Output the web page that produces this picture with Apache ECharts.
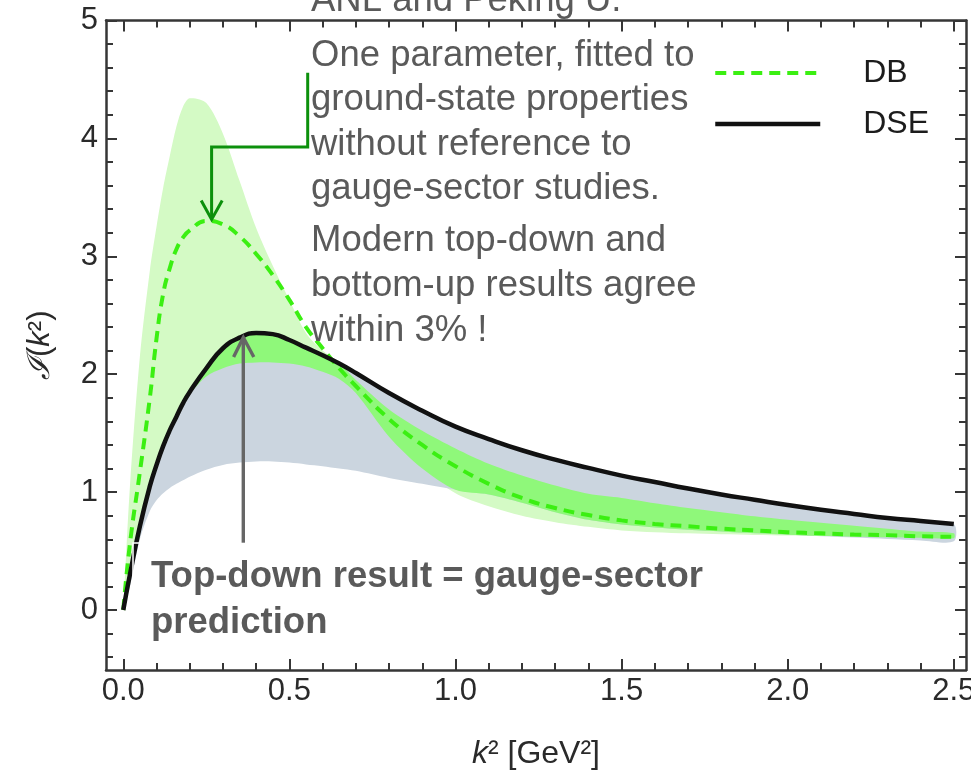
<!DOCTYPE html>
<html>
<head>
<meta charset="utf-8">
<script src="https://cdn.jsdelivr.net/npm/echarts@6/dist/echarts.min.js"></script>
<style>
  html, body { margin: 0; padding: 0; background: #ffffff; }
  #chart { width: 971px; height: 779px; }
</style>
</head>
<body>
<div id="chart"></div>
<script>
// k^2 sample points [GeV^2]
const k2 = [0, 0.02, 0.05, 0.08, 0.1, 0.12, 0.14, 0.16, 0.18, 0.2, 0.25, 0.3, 0.35, 0.4, 0.45, 0.5, 0.55, 0.6, 0.65, 0.7,
            0.8, 0.9, 1.0, 1.1, 1.2, 1.3, 1.4, 1.5, 1.6, 1.7, 1.8, 1.9, 2.0, 2.1, 2.2, 2.3, 2.4, 2.5];

// DB (bottom-up) interaction and its band
const dbCurve    = [0, 0.56, 1.17, 1.80, 2.30, 2.68, 2.90, 3.06, 3.16, 3.22, 3.30, 3.27, 3.17, 3.02, 2.84, 2.63, 2.40, 2.22, 2.05, 1.90,
                    1.62, 1.40, 1.22, 1.07, 0.95, 0.865, 0.805, 0.76, 0.73, 0.71, 0.69, 0.675, 0.66, 0.65, 0.64, 0.635, 0.625, 0.62];
const dbBandLow  = [0, 0.29, 0.70, 1.04, 1.22, 1.38, 1.515, 1.63, 1.745, 1.83, 1.98, 2.05, 2.09, 2.10, 2.10, 2.09, 2.065, 2.02, 1.96, 1.84,
                    1.47, 1.20, 0.99, 0.88, 0.80, 0.745, 0.705, 0.675, 0.66, 0.65, 0.643, 0.637, 0.632, 0.627, 0.622, 0.617, 0.612, 0.608];
const dbBandHigh = [0, 1.05, 2.15, 2.88, 3.25, 3.58, 3.85, 4.10, 4.27, 4.34, 4.30, 4.04, 3.64, 3.24, 2.92, 2.63, 2.35, 2.20, 2.10, 1.95,
                    1.70, 1.52, 1.37, 1.24, 1.14, 1.055, 0.985, 0.95, 0.905, 0.865, 0.83, 0.795, 0.765, 0.74, 0.715, 0.69, 0.665, 0.65];

// DSE (top-down) interaction; its band runs from dseBandLow up to the curve
const dseCurve   = [0, 0.30, 0.71, 1.05, 1.23, 1.39, 1.525, 1.64, 1.755, 1.85, 2.05, 2.22, 2.31, 2.35, 2.34, 2.29, 2.225, 2.16, 2.09, 2.01,
                    1.84, 1.69, 1.555, 1.45, 1.355, 1.275, 1.205, 1.14, 1.085, 1.03, 0.98, 0.935, 0.89, 0.85, 0.815, 0.78, 0.755, 0.73];
const dseBandLow = [0, 0.20, 0.60, 0.84, 0.93, 0.99, 1.035, 1.07, 1.10, 1.13, 1.19, 1.23, 1.25, 1.26, 1.26, 1.25, 1.235, 1.22, 1.20, 1.18,
                    1.12, 1.07, 1.02, 0.98, 0.91, 0.83, 0.765, 0.725, 0.70, 0.68, 0.665, 0.65, 0.638, 0.626, 0.614, 0.602, 0.59, 0.582];

// Axis ticks
const xMajorTicks = [0, 0.5, 1.0, 1.5, 2.0, 2.5];
const xMinorTicks = [0.1, 0.2, 0.3, 0.4, 0.6, 0.7, 0.8, 0.9, 1.1, 1.2, 1.3, 1.4, 1.6, 1.7, 1.8, 1.9, 2.1, 2.2, 2.3, 2.4];
const yMajorTicks = [0, 1, 2, 3, 4, 5];
const yMinorTicks = [-0.4, -0.2, 0.2, 0.4, 0.6, 0.8, 1.2, 1.4, 1.6, 1.8, 2.2, 2.4, 2.6, 2.8,
                     3.2, 3.4, 3.6, 3.8, 4.2, 4.4, 4.6, 4.8];

// Plot range (frame padding around the data)
const X_MIN = -0.052, X_MAX = 2.5367;
const Y_MIN = -0.509, Y_MAX = 5;

const FONT = 'Liberation Sans';
const FRAME = '#363636';
const NOTE = '#5a5a5a';

// Overlap of the two bands: where both uncertainty regions cover the same values
const overlapLow  = k2.map((_, i) => Math.max(dbBandLow[i], dseBandLow[i]));
const overlapHigh = k2.map((_, i) => Math.max(overlapLow[i], Math.min(dbBandHigh[i], dseCurve[i])));

// A filled band between two sampled edges, drawn as one smoothed polygon in data coordinates
function bandSeries(name, low, high, color) {
  return {
    name: name, type: 'custom', xAxisIndex: 0, yAxisIndex: 0, silent: true, clip: true,
    data: k2.map((x, i) => [x, low[i], high[i]]),
    encode: { x: 0, y: [1, 2] },
    renderItem: function (params, api) {
      if (params.dataIndex !== 0) return null;
      const upper = k2.map((x, i) => api.coord([x, high[i]]));
      const lower = k2.map((x, i) => api.coord([x, low[i]])).reverse();
      return {
        type: 'polygon',
        shape: { points: upper.concat(lower), smooth: 0.3 },
        style: { fill: color, stroke: null }
      };
    }
  };
}

function xAxisOf(position, ticks, len, showLine, showLabels, extra) {
  return Object.assign({
    type: 'value', gridIndex: 0, position: position, min: X_MIN, max: X_MAX,
    axisLine: { show: showLine, onZero: false, lineStyle: { color: FRAME, width: 2.5 } },
    axisTick: { show: true, inside: true, length: len, customValues: ticks, lineStyle: { color: FRAME, width: 2 } },
    axisLabel: {
      show: showLabels, customValues: ticks, margin: 6,
      fontFamily: FONT, fontSize: 31, color: '#2a2a2a',
      formatter: v => v.toFixed(1)
    },
    splitLine: { show: false }
  }, extra || {});
}

function yAxisOf(position, ticks, len, showLine, showLabels, extra) {
  return Object.assign({
    type: 'value', gridIndex: 0, position: position, min: Y_MIN, max: Y_MAX,
    axisLine: { show: showLine, onZero: false, lineStyle: { color: FRAME, width: 2.5 } },
    axisTick: { show: true, inside: true, length: len, customValues: ticks, lineStyle: { color: FRAME, width: 2 } },
    axisLabel: {
      show: showLabels, customValues: ticks, margin: 8,
      fontFamily: FONT, fontSize: 31, color: '#2a2a2a',
      formatter: v => String(v)
    },
    splitLine: { show: false }
  }, extra || {});
}

const chart = echarts.init(document.getElementById('chart'), null, { renderer: 'canvas' });

chart.setOption({
  animation: false,
  backgroundColor: '#ffffff',
  grid: { left: 106, right: 5, top: 20.5, bottom: 109, outerBoundsMode: 'none', containLabel: false },
  xAxis: [
    xAxisOf('bottom', xMajorTicks, 11, true, true, {
      name: '{k|k}² [GeV{s|²}]',
      nameLocation: 'middle', nameGap: 68,
      nameTextStyle: {
        fontFamily: FONT, fontSize: 32, color: '#2a2a2a',
        rich: {
          k: { fontFamily: FONT, fontStyle: 'italic', fontSize: 32, color: '#2a2a2a' },
          s: { fontFamily: FONT, fontSize: 32, color: '#2a2a2a' }
        }
      }
    }),
    xAxisOf('bottom', xMinorTicks, 7, false, false),
    xAxisOf('top', xMajorTicks, 11, true, false),
    xAxisOf('top', xMinorTicks, 7, false, false)
  ],
  yAxis: [
    yAxisOf('left', yMajorTicks, 11, true, true, {
      name: '{I|ℐ}({k|k}²)',
      nameLocation: 'middle', nameGap: 50, nameRotate: 90,
      nameTextStyle: {
        fontFamily: FONT, fontSize: 31, color: '#2a2a2a',
        rich: {
          I: { fontFamily: 'DejaVu Serif', fontStyle: 'italic', fontSize: 31, color: '#2a2a2a' },
          k: { fontFamily: FONT, fontStyle: 'italic', fontSize: 31, color: '#2a2a2a' }
        }
      }
    }),
    yAxisOf('left', yMinorTicks, 7, false, false),
    yAxisOf('right', yMajorTicks, 11, true, false),
    yAxisOf('right', yMinorTicks, 7, false, false)
  ],
  legend: {
    data: ['DB', 'DSE'],
    orient: 'vertical',
    left: 708, top: 52,
    itemWidth: 105, itemHeight: 12, itemGap: 19,
    selectedMode: false,
    itemStyle: { opacity: 0 },
    lineStyle: { width: 'inherit', type: 'inherit' },
    textStyle: { fontFamily: FONT, fontSize: 32, color: '#1c1c1c', padding: [0, 0, 0, 38] }
  },
  series: [
    bandSeries('DB band', dbBandLow, dbBandHigh, '#d4fac5'),
    bandSeries('DSE band', dseBandLow, dseCurve, '#cbd5df'),
    bandSeries('band overlap', overlapLow, overlapHigh, '#8ff87a'),
    {
      name: 'DB', type: 'line', smooth: 0.5, symbol: 'none', silent: true,
      xAxisIndex: 0, yAxisIndex: 0, emphasis: { disabled: true },
      data: k2.map((x, i) => [x, dbCurve[i]]),
      color: '#3bef12',
      itemStyle: { color: '#3bef12' },
      lineStyle: { color: '#3bef12', width: 4, type: [11, 7] }
    },
    {
      name: 'DSE', type: 'line', smooth: 0.5, symbol: 'none', silent: true,
      xAxisIndex: 0, yAxisIndex: 0, emphasis: { disabled: true },
      data: k2.map((x, i) => [x, dseCurve[i]]),
      color: '#111111',
      itemStyle: { color: '#111111' },
      lineStyle: { color: '#111111', width: 4.5 }
    }
  ],
  graphic: [
    // slide notes
    {
      type: 'text', x: 311, y: -22, z: 100, silent: true,
      style: { text: 'ANL and Peking U.', font: '36.5px "Liberation Sans"', fill: NOTE,
               lineHeight: 45, verticalAlign: 'top', align: 'left' }
    },
    {
      type: 'text', x: 311, y: 33.5, z: 100, silent: true,
      style: { text: 'One parameter, fitted to\nground-state properties\nwithout reference to\ngauge-sector studies.',
               font: '36.5px "Liberation Sans"', fill: NOTE, lineHeight: 44.5, verticalAlign: 'top', align: 'left' }
    },
    {
      type: 'text', x: 311, y: 218, z: 100, silent: true,
      style: { text: 'Modern top-down and\nbottom-up results agree\nwithin 3% !',
               font: '36.5px "Liberation Sans"', fill: NOTE, lineHeight: 45, verticalAlign: 'top', align: 'left' }
    },
    {
      type: 'text', x: 151, y: 553.5, z: 100, silent: true,
      style: { text: 'Top-down result = gauge-sector\nprediction',
               font: 'bold 36.5px "Liberation Sans"', fill: NOTE, lineHeight: 46, verticalAlign: 'top', align: 'left' }
    },
    // edge of the note box
    {
      type: 'polyline', z: 99, silent: true,
      shape: { points: [[133, 600], [133, 543], [160, 543]] },
      style: { stroke: '#ffffff', lineWidth: 1.5, fill: null }
    },
    // green pointer to the DB maximum
    {
      type: 'polyline', z: 100, silent: true,
      shape: { points: [[307.7, 72.7], [307.7, 147], [211.6, 147], [211.6, 218]] },
      style: { stroke: '#0c900c', lineWidth: 3, fill: null }
    },
    {
      type: 'polyline', z: 100, silent: true,
      shape: { points: [[201.2, 200.5], [211.6, 219.5], [222.2, 200.5]] },
      style: { stroke: '#0c900c', lineWidth: 3, fill: null }
    },
    // grey pointer to the DSE maximum
    {
      type: 'polyline', z: 100, silent: true,
      shape: { points: [[243.3, 542.7], [243.3, 338]] },
      style: { stroke: '#666666', lineWidth: 3.4, fill: null }
    },
    {
      type: 'polyline', z: 100, silent: true,
      shape: { points: [[233.6, 357], [243.3, 337.5], [253.8, 357]] },
      style: { stroke: '#666666', lineWidth: 3.4, fill: null }
    }
  ]
});
</script>
</body>
</html>
